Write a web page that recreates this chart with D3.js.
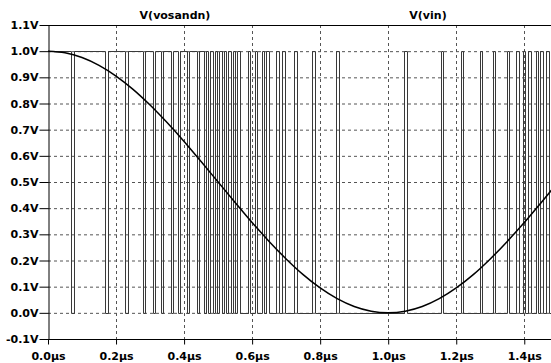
<!DOCTYPE html>
<html><head><meta charset="utf-8">
<script src="https://cdn.jsdelivr.net/npm/d3@7"></script>
<style>
html,body{margin:0;padding:0;background:#fff;overflow:hidden}
svg{display:block}
text{font-family:"DejaVu Sans",Verdana,sans-serif;font-weight:bold;fill:#000}
</style></head>
<body><svg id="c" width="551" height="363"></svg>
<script>
// ---- data ----
const traceNames = ["V(vosandn)", "V(vin)"];
const yTicks = [-0.1, 0.0, 0.1, 0.2, 0.3, 0.4, 0.5, 0.6, 0.7, 0.8, 0.9, 1.0, 1.1];
const xTicks = [0.0, 0.2, 0.4, 0.6, 0.8, 1.0, 1.2, 1.4];
// V(vin): time (µs) and value (V)
const vinTime = [0, 0.05, 0.1, 0.15, 0.2, 0.25, 0.3, 0.35, 0.4, 0.45, 0.5, 0.55, 0.6, 0.65, 0.7, 0.75,
  0.8, 0.85, 0.9, 0.95, 1.0, 1.05, 1.1, 1.15, 1.2, 1.25, 1.3, 1.35, 1.4, 1.45, 1.5];
const vinValue = [1.0, 0.994, 0.976, 0.946, 0.905, 0.854, 0.794, 0.727, 0.655, 0.578, 0.5, 0.422, 0.345, 0.273, 0.206, 0.146,
  0.095, 0.054, 0.024, 0.006, 0.0, 0.006, 0.024, 0.054, 0.095, 0.146, 0.206, 0.273, 0.345, 0.422, 0.5];
// V(vosandn): starts high (1 V); toggles between 1 V and 0 V at each edge time (µs)
const vosStartLevel = 1;
const vosEdges = [0.068, 0.075, 0.169, 0.176, 0.227, 0.234, 0.278, 0.285, 0.308, 0.315, 0.332, 0.339,
  0.361, 0.368, 0.382, 0.389, 0.408, 0.415, 0.437, 0.444,
  0.458, 0.464, 0.471, 0.477, 0.484, 0.491, 0.497, 0.504, 0.510, 0.517, 0.524, 0.530, 0.537, 0.543, 0.550, 0.556, 0.563,
  0.588, 0.595, 0.607, 0.614, 0.628, 0.635, 0.642, 0.650, 0.671, 0.679, 0.689, 0.696, 0.724, 0.732,
  0.777, 0.784, 0.847, 0.855, 1.046, 1.054, 1.155, 1.162, 1.213, 1.221, 1.269, 1.276, 1.307, 1.314,
  1.348, 1.355, 1.377, 1.385, 1.395, 1.402, 1.412, 1.420, 1.433, 1.440, 1.447, 1.455, 1.465, 1.472];
const tEnd = 1.5;

// ---- chart ----
const svg = d3.select("#c");
const x = d3.scaleLinear().domain([0, 1.5]).range([48, 48 + 340.2 * 1.5]);
const y = d3.scaleLinear().domain([-0.1, 1.1]).range([339, 25]);
const gridColor = "#555";

// grid
svg.append("g").selectAll("line").data(yTicks.filter(v => v > -0.05 && v < 1.05)).join("line")
  .attr("x1", 48).attr("x2", 551).attr("y1", d => y(d) + 0.5).attr("y2", d => y(d) + 0.5)
  .attr("stroke", gridColor).attr("stroke-width", 1).attr("stroke-dasharray", "3,3");
svg.append("g").selectAll("line").data(xTicks.filter(v => v > 0.05)).join("line")
  .attr("x1", d => Math.round(x(d)) + 0.5).attr("x2", d => Math.round(x(d)) + 0.5)
  .attr("y1", 25).attr("y2", 339)
  .attr("stroke", gridColor).attr("stroke-width", 1).attr("stroke-dasharray", "3,3");

// square wave
const vosPts = [[0, vosStartLevel]];
let lvl = vosStartLevel;
vosEdges.forEach(t => { lvl = 1 - lvl; vosPts.push([t, lvl]); });
vosPts.push([tEnd, lvl]);
const stepLine = d3.line().x(d => Math.round(x(d[0])) + 0.5).y(d => Math.round(y(d[1])) + 0.5).curve(d3.curveStepAfter);
svg.append("path").datum(vosPts).attr("d", stepLine)
  .attr("fill", "none").attr("stroke", "#3a3a3a").attr("stroke-width", 1);

// vin curve
const vinPts = vinTime.map((t, i) => [t, vinValue[i]]);
const smooth = d3.line().x(d => x(d[0])).y(d => y(d[1])).curve(d3.curveMonotoneX);
svg.append("path").datum(vinPts).attr("d", smooth)
  .attr("fill", "none").attr("stroke", "#000").attr("stroke-width", 1.5);

// axes
const yAxis = d3.axisLeft(y).tickValues(yTicks).tickFormat(d => d.toFixed(1) + "V")
  .tickSize(9).tickSizeOuter(0).tickPadding(1);
const gy = svg.append("g").attr("transform", "translate(48.5,0)").call(yAxis);
const xAxis = d3.axisBottom(x).tickValues(xTicks).tickFormat(d => d.toFixed(1) + "\u00b5s")
  .tickSize(5).tickSizeOuter(0).tickPadding(8);
const gx = svg.append("g").attr("transform", "translate(0,339.5)").call(xAxis);
[gy, gx].forEach(g => {
  g.selectAll("text").style("font-size", "11px").attr("fill", "#000");
  g.selectAll("line,path").attr("stroke", "#000");
});
gx.select(".domain").attr("d", "M48,0H551");
// top frame
svg.append("line").attr("x1", 48).attr("x2", 551).attr("y1", 25.5).attr("y2", 25.5)
  .attr("stroke", "#000").attr("stroke-width", 1);

// trace titles
const titleX = [175, 428];
svg.append("g").selectAll("text").data(traceNames).join("text")
  .attr("x", (d, i) => titleX[i]).attr("y", 19).attr("text-anchor", "middle")
  .style("font-size", "11px").text(d => d);
</script></body></html>
